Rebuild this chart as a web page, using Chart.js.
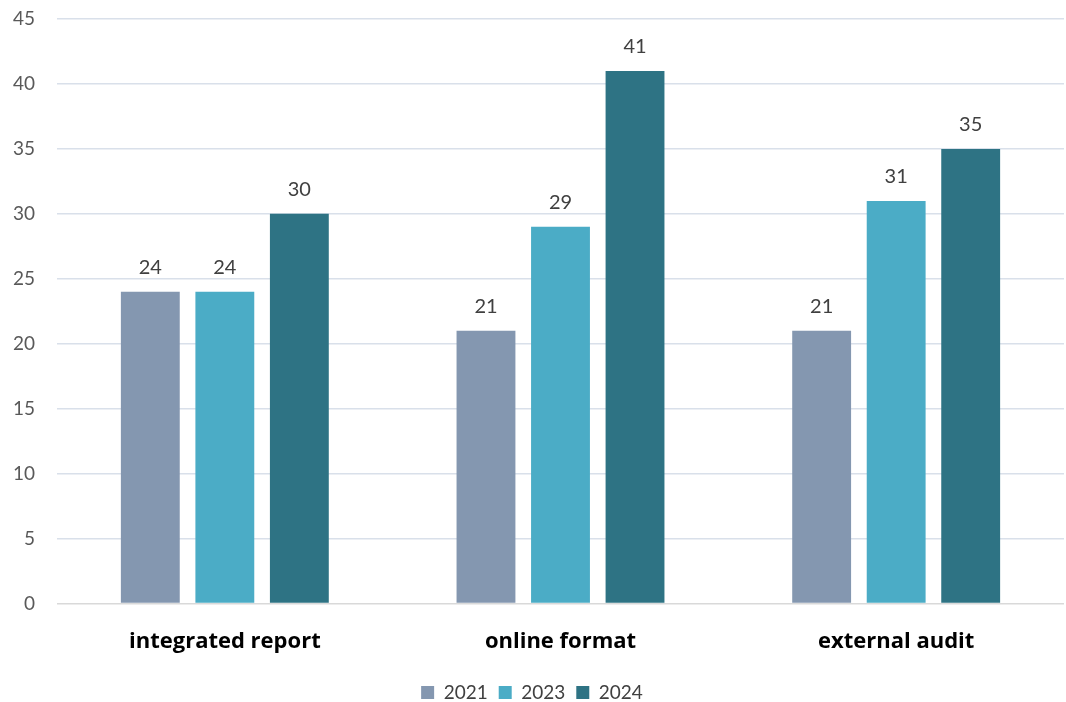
<!DOCTYPE html>
<html>
<head>
<meta charset="utf-8">
<script src="https://cdn.jsdelivr.net/npm/chart.js@4/dist/chart.umd.min.js"></script>
<style>
  html, body { margin: 0; padding: 0; background: #fff; }
  #wrap { width: 1066px; height: 702px; }
</style>
</head>
<body>
<div id="wrap"><canvas id="chart"></canvas></div>
<script>
const categories = ["integrated report", "online format", "external audit"];
const years = ["2021", "2023", "2024"];
const v2021 = [24, 21, 21];
const v2023 = [24, 29, 31];
const v2024 = [30, 41, 35];
const COLORS = ["#8497B0", "#4BACC6", "#2E7384"];
const FONT = "Lato, 'Open Sans', sans-serif";

// values drawn above each bar
const valueLabels = {
  id: "valueLabels",
  afterDatasetsDraw(chart) {
    const { ctx } = chart;
    ctx.save();
    ctx.font = "20px " + FONT;
    ctx.fillStyle = "#404040";
    ctx.textAlign = "center";
    ctx.textBaseline = "bottom";
    chart.data.datasets.forEach((ds, i) => {
      chart.getDatasetMeta(i).data.forEach((bar, j) => {
        ctx.fillText(ds.data[j], bar.x, bar.y - 14);
      });
    });
    ctx.restore();
  },
};

new Chart(document.getElementById("chart"), {
  type: "bar",
  data: {
    labels: categories,
    datasets: [v2021, v2023, v2024].map((d, i) => ({
      label: years[i], data: d, backgroundColor: COLORS[i],
      barPercentage: 0.79, categoryPercentage: 0.666,
    })),
  },
  options: {
    responsive: true,
    maintainAspectRatio: false,
    animation: false,
    layout: { padding: { top: 0, right: 2, left: 0, bottom: -10 } },
    plugins: {
      legend: {
        position: "bottom",
        labels: { boxWidth: 13, boxHeight: 13, padding: 11, color: "#404040", font: { family: FONT, size: 19 } },
      },
      tooltip: { enabled: false },
    },
    scales: {
      x: {
        grid: { display: false },
        border: { display: false },
        ticks: { color: "#000", padding: 17, font: { family: "'Open Sans', sans-serif", size: 22, weight: "bold" } },
      },
      y: {
        min: 0, max: 45,
        afterFit: (s) => { s.width = 57; s.paddingTop = 19; },
        ticks: { stepSize: 5, color: "#595959", padding: 22, font: { family: FONT, size: 19 } },
        grid: {
          drawTicks: false, lineWidth: 1.5,
          color: (c) => (c.tick && c.tick.value === 0 ? "#D9D9D9" : "#D9E0EA"),
        },
        border: { display: false },
      },
    },
  },
  plugins: [valueLabels],
});
</script>
</body>
</html>
